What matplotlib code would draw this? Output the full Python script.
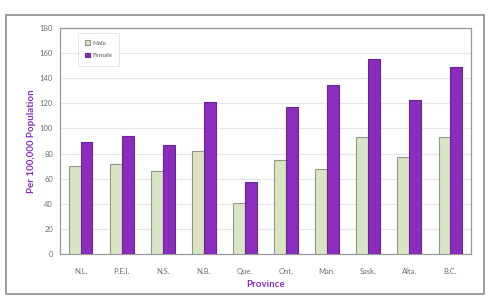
import numpy as np
import matplotlib
matplotlib.use("Agg")
import matplotlib.pyplot as plt
from matplotlib.patches import Rectangle

provinces = ["N.L.", "P.E.I.", "N.S.", "N.B.", "Que.", "Ont.", "Man.", "Sask.", "Alta.", "B.C."]
male = [70, 72, 66, 82, 41, 75, 68, 93, 77, 93]
female = [89, 94, 87, 121, 57, 117, 135, 155, 123, 149]

plt.rcParams['font.family'] = ['Lato', 'DejaVu Sans']

fig = plt.figure(figsize=(4.9, 2.98), dpi=100)
fig.patches.append(Rectangle((6/490, 1-294/298), 478/490, 279/298, transform=fig.transFigure,
                             fill=False, edgecolor="#8c8c8c", linewidth=1.2))

ax = fig.add_axes([60/490, 1-254/298, 411/490, 226/298])
x = np.arange(len(provinces))
w = 0.29
ax.bar(x - w/2, male, w, color="#d9e5c2", edgecolor="#8e9a86", linewidth=0.8, label="Male", zorder=3)
ax.bar(x + w/2, female, w, color="#8a2dbd", edgecolor="#6c2396", linewidth=0.8, label="Female", zorder=3)

ax.set_xlim(-0.5, len(provinces) - 0.5)
ax.set_ylim(0, 180)
ax.set_yticks(range(0, 181, 20))
ax.set_xticks(x)
ax.set_xticklabels(provinces)
ax.tick_params(axis="both", labelsize=5.5, colors="#6e6e6e", length=0, pad=5)
ax.tick_params(axis="x", pad=10)
ax.yaxis.grid(True, color="#e6e6e6", linewidth=0.9, zorder=0)
for s in ax.spines.values():
    s.set_color("#9a9a9a")
    s.set_linewidth(0.9)

ax.set_ylabel("Per 100,000 Population", color="#8a2dbd", fontsize=7, fontweight="bold", labelpad=3)
ax.set_xlabel("Province", color="#8a2dbd", fontsize=7, fontweight="bold", labelpad=4)

leg = ax.legend(loc="upper left", bbox_to_anchor=(0.04, 0.985), fontsize=4.5, frameon=True,
                handlelength=0.8, handleheight=0.8, borderpad=0.9, labelspacing=1.1, handletextpad=0.3)
leg.get_frame().set_edgecolor("#dddddd")
leg.get_frame().set_linewidth(0.6)
leg.get_frame().set_boxstyle("square")
for t in leg.get_texts():
    t.set_color("#555555")

fig.savefig("out.png", dpi=100)
